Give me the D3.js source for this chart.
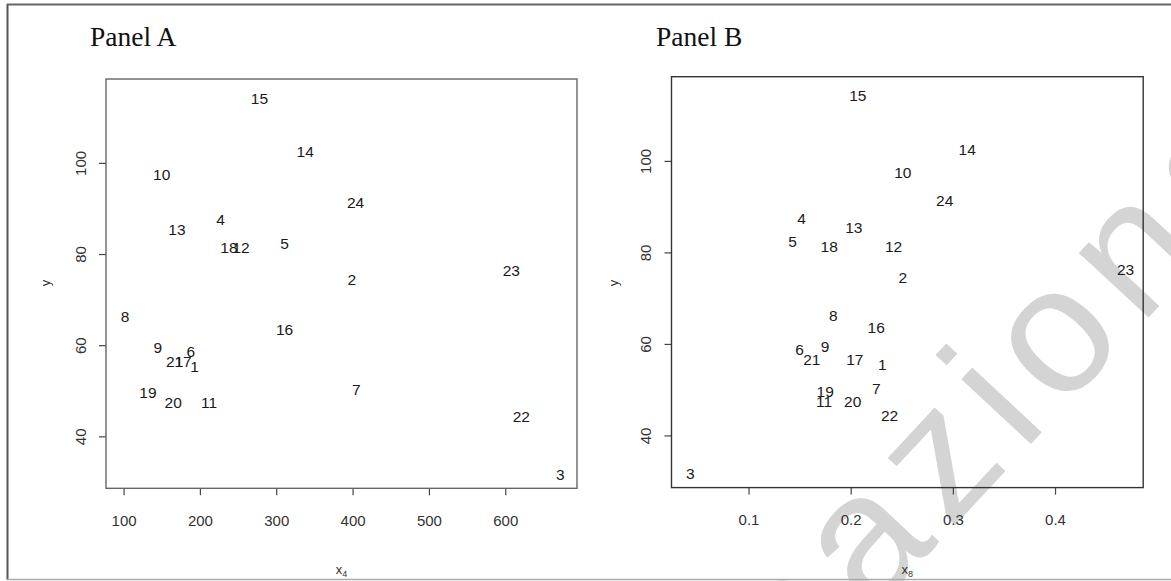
<!DOCTYPE html>
<html>
<head>
<meta charset="utf-8">
<script src="https://cdn.jsdelivr.net/npm/d3@7"></script>
<style>
  body { margin: 0; background: #fff; }
  svg { display: block; }
</style>
</head>
<body>
<svg id="chart" width="1171" height="581"></svg>
<script>
const obs = [1, 2, 3, 4, 5, 6, 7, 8, 9, 10, 11, 12, 13, 14, 15, 16, 17, 18, 19, 20, 21, 22, 23, 24];
const yVals = [55.4, 74.5, 31.6, 87.5, 82.3, 58.7, 50.2, 66.2, 59.4, 97.5, 47.4, 81.4,
  85.4, 102.4, 114.2, 63.5, 56.5, 81.4, 49.6, 47.4, 56.5, 44.3, 76.3, 91.4];
const x4Vals = [193, 399, 672, 227, 311, 188, 405, 102, 145, 150, 212, 254,
  170, 338, 278, 311, 178, 238, 132, 165, 167, 621, 608, 404];
const x8Vals = [0.231, 0.251, 0.043, 0.152, 0.143, 0.150, 0.225, 0.183, 0.175, 0.251, 0.174, 0.242,
  0.203, 0.314, 0.207, 0.225, 0.204, 0.179, 0.175, 0.202, 0.162, 0.238, 0.469, 0.292];

const x4Ticks = [100, 200, 300, 400, 500, 600];
const x8Ticks = [0.1, 0.2, 0.3, 0.4];
const yTicks = [40, 60, 80, 100];

const svg = d3.select("#chart");

// watermark across panel B, kept underneath the plot marks
svg.append("text")
  .attr("transform", "translate(792, 700) rotate(-47)")
  .attr("font-family", "'Liberation Sans', Arial, sans-serif")
  .attr("font-size", 180)
  .attr("letter-spacing", 16)
  .attr("fill", "#d4d4d4")
  .text("nazionale");

// outer frame of the page scan
svg.append("line").attr("x1", 7.5).attr("x2", 7.5).attr("y1", 4).attr("y2", 580)
  .attr("stroke", "#555").attr("stroke-width", 2);
svg.append("line").attr("x1", 7).attr("x2", 1171).attr("y1", 4.5).attr("y2", 4.5)
  .attr("stroke", "#666").attr("stroke-width", 2);
svg.append("line").attr("x1", 7).attr("x2", 1171).attr("y1", 579.5).attr("y2", 579.5)
  .attr("stroke", "#aaa").attr("stroke-width", 1.5);

const panels = [
  { title: "Panel A", titleX: 90, box: { l: 106, r: 577, t: 79, b: 488.3 },
    xs: x4Vals, xDomain: [77, 694], xTicks: x4Ticks, xFmt: d3.format("d"),
    sub: "4", yLabX: 45, yTickX: 80, boxColor: "#666" },
  { title: "Panel B", titleX: 656, box: { l: 671.5, r: 1143.2, t: 76.7, b: 487.6 },
    xs: x8Vals, xDomain: [0.0246, 0.4863], xTicks: x8Ticks, xFmt: d3.format(".1f"),
    sub: "8", yLabX: 613, yTickX: 645, boxColor: "#333" }
];

panels.forEach((p) => {
  const g = svg.append("g");
  const xScale = d3.scaleLinear().domain(p.xDomain).range([p.box.l, p.box.r]);
  const yScale = d3.scaleLinear().domain([28.6, 118.4]).range([p.box.b, p.box.t]);

  g.append("text")
    .attr("x", p.titleX).attr("y", 46)
    .attr("font-family", "'Liberation Serif', 'Times New Roman', serif")
    .attr("font-size", 27.5).attr("fill", "#111")
    .text(p.title);

  // x axis
  const xAxis = d3.axisBottom(xScale).tickValues(p.xTicks).tickFormat(p.xFmt)
    .tickSize(7).tickPadding(20);
  const gx = g.append("g").attr("transform", `translate(0, ${p.box.b})`).call(xAxis);
  gx.select(".domain").remove();
  gx.selectAll(".tick line").attr("stroke", "#444").attr("stroke-width", 1.2);
  gx.selectAll(".tick text")
    .attr("font-family", "'Liberation Sans', Arial, sans-serif")
    .attr("font-size", 15).attr("fill", "#333");

  // y axis, labels rotated as in R
  const yAxis = d3.axisLeft(yScale).tickValues(yTicks).tickSize(7).tickFormat(d3.format("d"));
  const gy = g.append("g").attr("transform", `translate(${p.box.l}, 0)`).call(yAxis);
  gy.select(".domain").remove();
  gy.selectAll(".tick line").attr("stroke", "#444").attr("stroke-width", 1.2);
  gy.selectAll(".tick text")
    .attr("x", null).attr("dy", null)
    .attr("transform", `translate(${p.yTickX - p.box.l}, 0) rotate(-90)`)
    .attr("text-anchor", "middle")
    .attr("dominant-baseline", "central")
    .attr("font-family", "'Liberation Sans', Arial, sans-serif")
    .attr("font-size", 15).attr("fill", "#333");

  g.append("rect")
    .attr("x", p.box.l).attr("y", p.box.t)
    .attr("width", p.box.r - p.box.l).attr("height", p.box.b - p.box.t)
    .attr("fill", "none").attr("stroke", p.boxColor).attr("stroke-width", 1.4);

  // axis titles
  const xl = g.append("text")
    .attr("x", (p.box.l + p.box.r) / 2).attr("y", 574)
    .attr("text-anchor", "middle")
    .attr("font-family", "'Liberation Sans', Arial, sans-serif")
    .attr("font-size", 13).attr("fill", "#333");
  xl.append("tspan").text("x");
  xl.append("tspan").attr("font-size", 9).attr("dy", 3).text(p.sub);

  g.append("text")
    .attr("transform", `translate(${p.yLabX}, 283) rotate(-90)`)
    .attr("text-anchor", "middle")
    .attr("dominant-baseline", "central")
    .attr("font-family", "'Liberation Sans', Arial, sans-serif")
    .attr("font-size", 13).attr("fill", "#333")
    .text("y");

  // observation numbers as plotting symbols
  g.selectAll("text.obs")
    .data(obs)
    .join("text")
    .attr("class", "obs")
    .attr("x", (d, i) => xScale(p.xs[i]))
    .attr("y", (d, i) => yScale(yVals[i]))
    .attr("text-anchor", "middle")
    .attr("dominant-baseline", "central")
    .attr("font-family", "'Liberation Sans', Arial, sans-serif")
    .attr("font-size", 15.5).attr("fill", "#1a1a1a")
    .text((d) => d);
});
</script>
</body>
</html>
